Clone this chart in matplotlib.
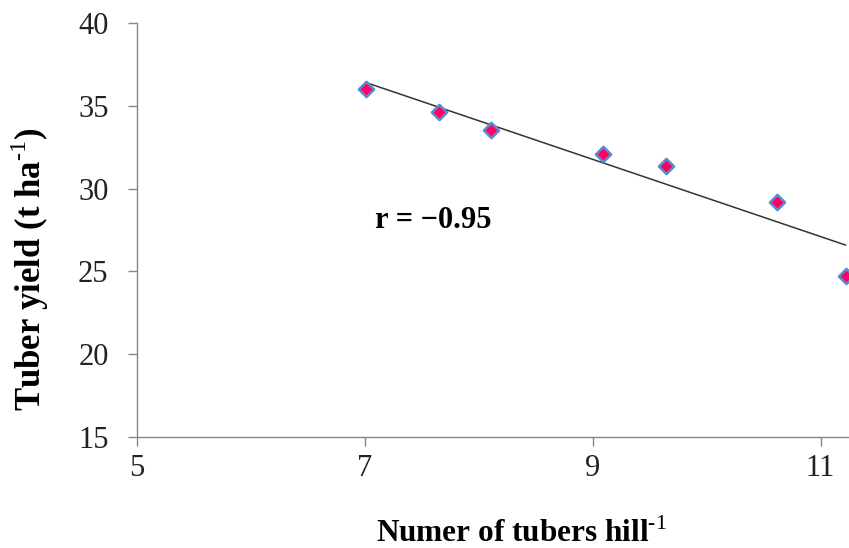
import numpy as np
import matplotlib
matplotlib.use("Agg")
import matplotlib.pyplot as plt

tubers = [7.01, 7.65, 8.11, 9.09, 9.64, 10.62, 11.22]
yield_t = [36.01, 34.64, 33.54, 32.07, 31.38, 29.21, 24.72]
xticks = [5, 7, 9, 11]
yticks = [15, 20, 25, 30, 35, 40]

plt.rcParams['font.family'] = ['Liberation Serif', 'DejaVu Serif']
plt.rcParams['mathtext.fontset'] = 'custom'
plt.rcParams['mathtext.rm'] = 'Liberation Serif'
plt.rcParams['mathtext.bf'] = 'Liberation Serif:bold'

W, H = 849, 548
fig = plt.figure(figsize=(W/100, H/100), dpi=100)
ax = fig.add_axes([137/W, (H-437)/H, 1 - 137/W, (437-23)/H])

slope, intercept = np.polyfit(tubers, yield_t, 1)
xs = np.array([min(tubers), max(tubers)])
ax.plot(xs, slope*xs + intercept, color='#333333', lw=1.1, zorder=2)
ax.scatter(tubers, yield_t, marker='D', s=60, facecolor='#FF0066',
           edgecolor='#5B8BC9', linewidths=1.8, zorder=3, clip_on=False)

ax.set_xlim(5, 11.25)
ax.set_ylim(15, 40)
ax.set_xticks(xticks)
ax.set_yticks(yticks)
for s in ['top', 'right']:
    ax.spines[s].set_visible(False)
for s in ['left', 'bottom']:
    ax.spines[s].set_color('#888888')
    ax.spines[s].set_linewidth(1.0)
ax.tick_params(axis='both', direction='out', length=6.5, width=1.0, color='#888888',
               labelsize=22, labelcolor='#222222')
ax.tick_params(axis='y', pad=14)
ax.tick_params(axis='x', pad=6)

fig.text(521/W, 1 - 534/H, 'Numer of tubers hill$^{\\mathrm{\u20101}}$', fontsize=22.5,
         fontweight='bold', ha='center', va='center')
fig.text(30/W, 1 - 269/H, 'Tuber yield (t ha$^{\\mathrm{\u20101}}$)', fontsize=25,
         fontweight='bold', ha='center', va='center', rotation=90)

ax.text(375/W, 1 - 220/H, 'r = \u22120.95', fontsize=22, fontweight='bold',
        ha='left', va='center', transform=fig.transFigure)

fig.savefig('out.png', dpi=100)
